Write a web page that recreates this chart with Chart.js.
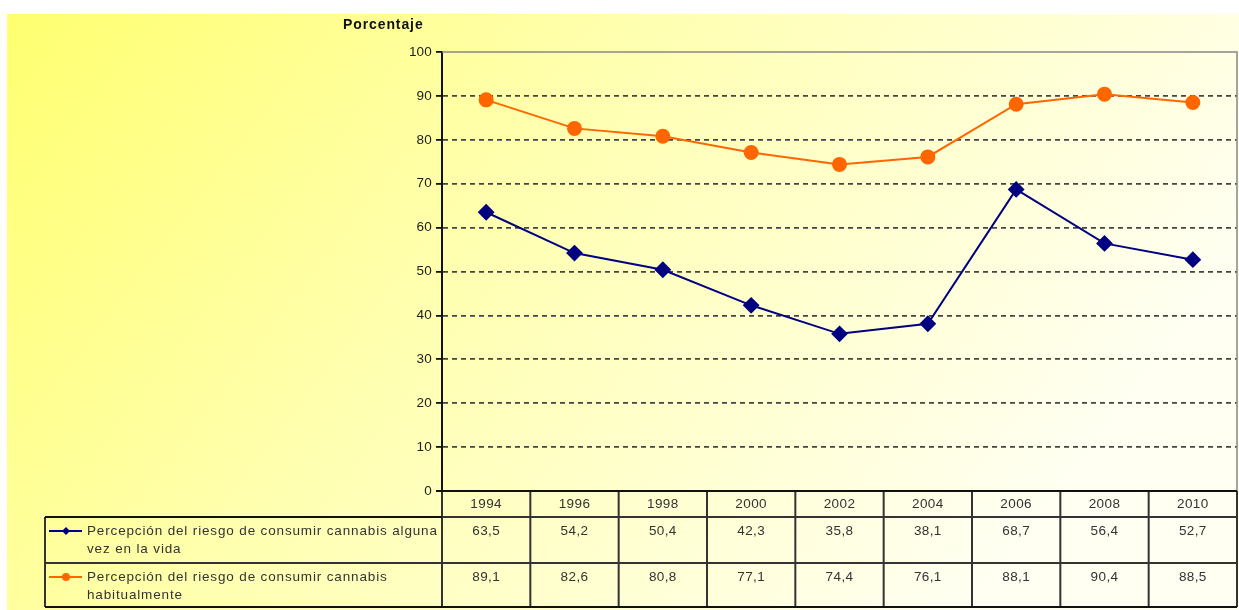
<!DOCTYPE html>
<html>
<head>
<meta charset="utf-8">
<script src="https://cdn.jsdelivr.net/npm/chart.js@4/dist/chart.umd.min.js"></script>
<style>
    body { margin: 0; background: #fff; }
    #wrap { width: 1239px; height: 610px; }
</style>
</head>
<body>
<div id="wrap"><canvas id="chart" width="1239" height="610"></canvas></div>
<script>
// data
const years = ["1994", "1996", "1998", "2000", "2002", "2004", "2006", "2008", "2010"];
const alguna = [63.5, 54.2, 50.4, 42.3, 35.8, 38.1, 68.7, 56.4, 52.7];
const habitual = [89.1, 82.6, 80.8, 77.1, 74.4, 76.1, 88.1, 90.4, 88.5];
const seriesNames = [
    "Percepción del riesgo de consumir cannabis alguna vez en la vida",
    "Percepción del riesgo de consumir cannabis habitualmente"
];
const yTicks = [0, 10, 20, 30, 40, 50, 60, 70, 80, 90, 100];

const FONT = "'Liberation Sans', Arial, sans-serif";
const SPACING = "0.4px";
const fmt = v => v.toFixed(1).replace(".", ",");

function wrapText(ctx, text, maxW) {
    const words = text.split(" ");
    const lines = [];
    let line = "";
    words.forEach(w => {
        const test = line ? line + " " + w : w;
        if (ctx.measureText(test).width > maxW && line) {
            lines.push(line);
            line = w;
        } else {
            line = test;
        }
    });
    if (line) lines.push(line);
    return lines;
}

// background, plot frame, axis title
const backdrop = {
    id: "backdrop",
    beforeDraw(chart) {
        const ctx = chart.ctx;
        ctx.save();
        ctx.fillStyle = "#fff";
        ctx.fillRect(0, 0, chart.width, chart.height);
        const g = ctx.createLinearGradient(7, 14, 900, 700);
        g.addColorStop(0, "#ffff70");
        g.addColorStop(0.45, "#ffffb0");
        g.addColorStop(1, "#fffff2");
        ctx.fillStyle = g;
        ctx.fillRect(7, 14, chart.width - 7, chart.height - 14);
        ctx.restore();
        ctx.letterSpacing = "0.2px";
    },
    afterDraw(chart) {
        const ctx = chart.ctx;
        const a = chart.chartArea;
        ctx.save();
        ctx.strokeStyle = "#888";
        ctx.lineWidth = 1.5;
        ctx.beginPath();
        ctx.moveTo(a.left, a.top);
        ctx.lineTo(a.right, a.top);
        ctx.lineTo(a.right, a.bottom);
        ctx.stroke();
        ctx.fillStyle = "#111";
        ctx.font = "bold 14px " + FONT;
        ctx.letterSpacing = "0.9px";
        ctx.textAlign = "left";
        ctx.textBaseline = "middle";
        ctx.fillText("Porcentaje", 343, 25);
        ctx.restore();
    }
};

// data table under the plot
const dataTable = {
    id: "dataTable",
    afterDraw(chart) {
        const ctx = chart.ctx;
        const x = chart.scales.x;
        const a = chart.chartArea;
        const n = years.length;
        const colW = (x.right - x.left) / n;
        const top = a.bottom;
        const headB = top + 26;
        const row1B = headB + 46;
        const row2B = row1B + 44;
        const tableL = 45;
        const series = chart.data.datasets;

        ctx.save();
        ctx.font = "13.5px " + FONT;
        ctx.letterSpacing = SPACING;
        ctx.fillStyle = "#333";
        ctx.textBaseline = "middle";
        ctx.textAlign = "center";

        years.forEach((yr, i) => {
            const cx = x.getPixelForValue(i);
            ctx.fillText(yr, cx, top + 13);
            ctx.fillText(fmt(series[0].data[i]), cx, headB + 14);
            ctx.fillText(fmt(series[1].data[i]), cx, row1B + 14);
        });

        // legend cells
        ctx.textAlign = "left";
        ctx.letterSpacing = "0.85px";
        [headB, row1B].forEach((rt, k) => {
            const lines = wrapText(ctx, seriesNames[k], 353);
            lines.forEach((ln, j) => ctx.fillText(ln, 87, rt + 14 + j * 18));
            const ds = series[k];
            const sy = rt + 14;
            ctx.strokeStyle = ds.borderColor;
            ctx.lineWidth = 2;
            ctx.beginPath();
            ctx.moveTo(49, sy);
            ctx.lineTo(82, sy);
            ctx.stroke();
            ctx.fillStyle = ds.borderColor;
            ctx.beginPath();
            if (k === 0) {
                ctx.moveTo(66, sy - 4);
                ctx.lineTo(70, sy);
                ctx.lineTo(66, sy + 4);
                ctx.lineTo(62, sy);
                ctx.closePath();
            } else {
                ctx.arc(66, sy, 4, 0, Math.PI * 2);
            }
            ctx.fill();
            ctx.fillStyle = "#333";
        });

        // grid lines of the table
        ctx.strokeStyle = "#333";
        ctx.lineWidth = 2;
        ctx.beginPath();
        for (let i = 0; i <= n; i++) {
            const px = x.left + i * colW;
            ctx.moveTo(px, top);
            ctx.lineTo(px, row2B);
        }
        ctx.moveTo(tableL, headB);
        ctx.lineTo(tableL, row2B);
        ctx.moveTo(x.left, headB); ctx.lineTo(x.right, headB);
        ctx.moveTo(tableL, row1B); ctx.lineTo(x.right, row1B);
        ctx.stroke();

        ctx.strokeStyle = "#111";
        ctx.beginPath();
        ctx.moveTo(x.left - 6, top); ctx.lineTo(x.right, top);
        ctx.moveTo(tableL, headB); ctx.lineTo(x.left, headB);
        ctx.moveTo(tableL, row2B); ctx.lineTo(x.right, row2B);
        ctx.stroke();
        ctx.restore();
    }
};

new Chart(document.getElementById("chart"), {
    type: "line",
    data: {
        labels: years,
        datasets: [
            {
                label: seriesNames[0],
                data: alguna,
                borderColor: "#000080",
                backgroundColor: "#000080",
                borderWidth: 2,
                pointStyle: "rectRot",
                pointRadius: 7,
                tension: 0
            },
            {
                label: seriesNames[1],
                data: habitual,
                borderColor: "#ff6600",
                backgroundColor: "#ff6600",
                borderWidth: 2,
                pointStyle: "circle",
                pointRadius: 6.5,
                tension: 0
            }
        ]
    },
    options: {
        responsive: false,
        animation: false,
        layout: { autoPadding: false, padding: { top: 52, bottom: 119, right: 2, left: 0 } },
        plugins: { legend: { display: false }, tooltip: { enabled: false } },
        scales: {
            x: { display: false, offset: true },
            y: {
                min: 0,
                max: 100,
                afterFit: s => { s.width = 442; },
                afterBuildTicks: s => { s.ticks = yTicks.map(v => ({ value: v })); },
                ticks: {
                    color: "#222",
                    font: { family: FONT, size: 13.5 },
                    padding: 4
                },
                grid: {
                    color: c => (c.tick.value === 0 || c.tick.value === 100) ? "rgba(0,0,0,0)" : "#444",
                    tickColor: "#111",
                    tickLength: 6,
                    lineWidth: 1.8
                },
                border: { color: "#111", width: 2, dash: [5, 4] }
            }
        }
    },
    plugins: [backdrop, dataTable]
});
</script>
</body>
</html>
